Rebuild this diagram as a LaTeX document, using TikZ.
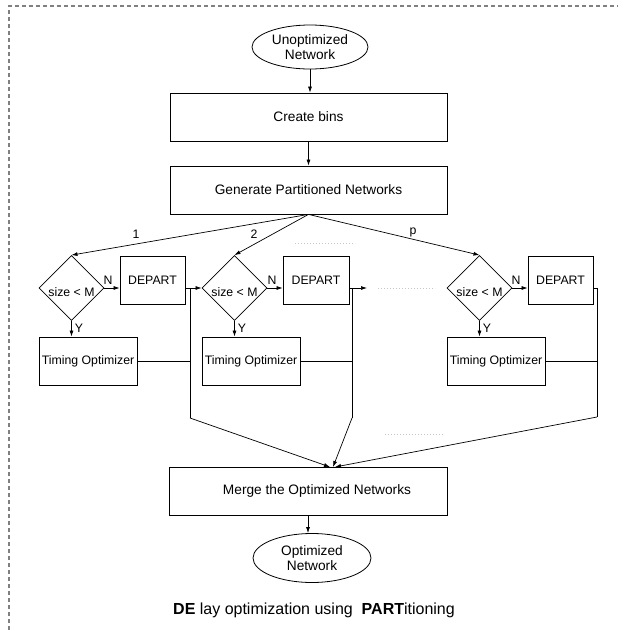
\documentclass[tikz,border=0pt]{standalone}
\usepackage{fontspec}
\setmainfont{Liberation Sans}
\usetikzlibrary{shapes.geometric,arrows.meta}
\begin{document}
\begin{tikzpicture}[x=1pt,y=-1pt,
  every node/.style={inner sep=0pt},
  conn/.style={line width=0.7pt},
  arr/.style={conn,-{Latex[length=6pt,width=4pt]}},
  bigbox/.style={draw,line width=0.8pt,minimum width=277pt,minimum height=48pt,
    font=\fontsize{13.7}{16}\selectfont},
  smallbox/.style={draw,line width=0.8pt,minimum height=48pt,
    font=\fontsize{12.3}{14}\selectfont},
  oval/.style={draw,ellipse,line width=0.8pt,minimum width=116pt,minimum height=44pt,
    align=center,font=\fontsize{13.7}{15}\selectfont},
  test/.style={draw,diamond,line width=0.8pt,minimum width=65pt,minimum height=65pt},
  lbl/.style={font=\fontsize{12.3}{14}\selectfont},
  hint/.style={draw=black!22,line width=0.8pt,dash pattern=on 1pt off 2pt},
]
\useasboundingbox (0,0) rectangle (618,630);
% outer frame
\draw[black!50,line width=1.2pt,dash pattern=on 4pt off 3pt] (9,630) -- (9,6) -- (618,6);

% main flow
\node[oval] (start) at (310,47) {Unoptimized\\Network};
\node[bigbox] (bins) at (308.5,117) {Create bins};
\node[bigbox] (gen) at (308.5,190) {Generate Partitioned Networks};

% partition 1
\node[test] (d1) at (71.5,288) {};
\node[lbl] (s1) at (71.5,292) {size < M};
\node[smallbox,minimum width=65pt] (dep1) at (152.5,280) {DEPART};
\node[smallbox,minimum width=98pt] (t1) at (88,361) {Timing Optimizer};

% partition 2
\node[test] (d2) at (234.5,288) {};
\node[lbl] (s2) at (234.5,292) {size < M};
\node[smallbox,minimum width=66pt] (dep2) at (316,280) {DEPART};
\node[smallbox,minimum width=98pt] (t2) at (251,361) {Timing Optimizer};

% partition p
\node[test] (d3) at (479.5,288) {};
\node[lbl] (s3) at (479.5,292) {size < M};
\node[smallbox,minimum width=65pt] (dep3) at (560.5,280) {DEPART};
\node[smallbox,minimum width=98pt] (t3) at (496,361) {Timing Optimizer};

\node[bigbox,minimum width=278pt] (merge) at (308,491) {\hspace*{18pt}Merge the Optimized Networks};
\node[oval,minimum width=118pt,minimum height=49pt] (end) at (312,558) {Optimized\\Network};

\node (caption) at (314,610) {\fontsize{16}{18}\selectfont\textbf{DE} lay optimization using\ \ \textbf{PART}itioning};

% labels
\node[lbl] (l1) at (136,234) {1};
\node[lbl] (l2) at (254,234) {2};
\node[lbl] (lp) at (413,232) {p};
\node[lbl] (n1) at (108,280) {N};
\node[lbl] (n2) at (272,280) {N};
\node[lbl] (n3) at (516,280) {N};
\node[lbl] (y1) at (79,328) {Y};
\node[lbl] (y2) at (242,328) {Y};
\node[lbl] (y3) at (487,328) {Y};

% connectors
\draw[arr] (start.south) -- (start.south |- bins.north);
\draw[arr] (bins) -- (gen);
\draw[arr] (gen.south) -- (d1.north);
\draw[arr] (gen.south) -- (d2.north);
\draw[arr] (gen.south) -- (d3.north);

\draw[arr] (d1.east) -- (d1.east -| dep1.west);
\draw[arr] (d1.south) -- (d1.south |- t1.north);
\draw[arr] (d2.east) -- (d2.east -| dep2.west);
\draw[arr] (d2.south) -- (d2.south |- t2.north);
\draw[arr] (d3.east) -- (d3.east -| dep3.west);
\draw[arr] (d3.south) -- (d3.south |- t3.north);

\coordinate (c1top) at (190,288);
\coordinate (c1bot) at (190,418);
\coordinate (c2top) at (352,288);
\coordinate (c2bot) at (352,418);
\coordinate (c3top) at (597,288);
\coordinate (c3bot) at (597,417);
\coordinate (o2) at (367,288);
\coordinate (m1) at (330,467);
\coordinate (m2) at (333,467);
\coordinate (m3) at (335,467);

\draw[arr] (dep1.east |- d2.west) -- (d2.west);
\draw[conn] (c1top) -- (c1bot);
\draw[conn] (t1.east) -- (t1.east -| c1top);
\draw[arr] (c1bot) -- (m1);

\draw[arr] (dep2.east |- d2.east) -- (o2);
\draw[conn] (c2top) -- (c2bot);
\draw[conn] (t2.east) -- (t2.east -| c2top);
\draw[arr] (c2bot) -- (m2);

\draw[conn] (dep3.east |- d3.east) -- (c3top) -- (c3bot);
\draw[conn] (t3.east) -- (t3.east -| c3top);
\draw[arr] (c3bot) -- (m3);

\draw[arr] (merge.south) -- (merge.south |- end.north);

% faint ellipsis marks between partitions
\draw[hint] (295,243) -- (355,243);
\draw[hint] (378,288) -- (435,288);
\draw[hint] (385,434) -- (443,434);
\end{tikzpicture}
\end{document}
